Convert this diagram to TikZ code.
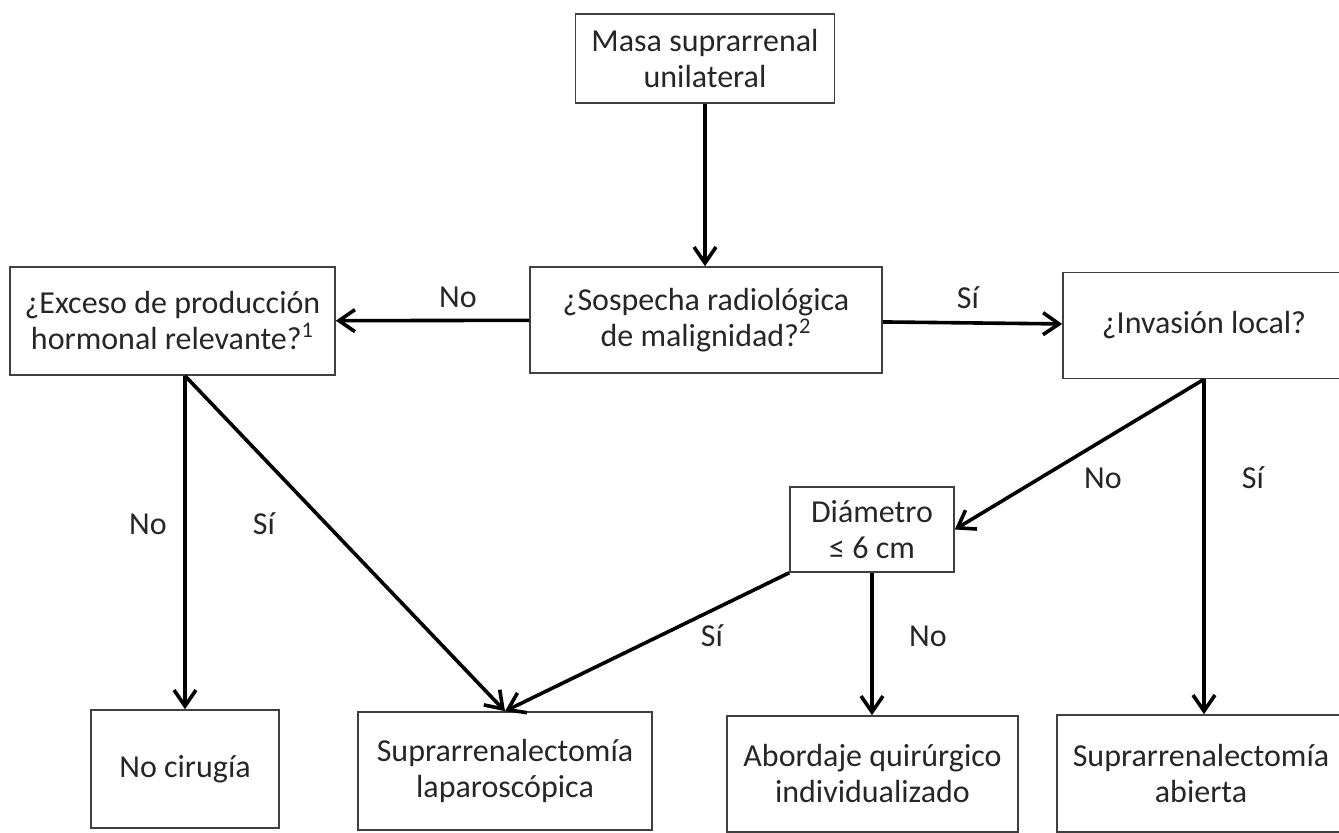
\documentclass[tikz,border=0pt]{standalone}
\usepackage{fontspec}
\setmainfont{Carlito}
\usepackage{tikz}
\usetikzlibrary{arrows.meta,calc,positioning}

\begin{document}
\begin{tikzpicture}[x=0.5pt,y=-0.5pt,
  caja/.style={draw=black!75,line width=0.8pt,align=center,inner sep=0pt,
    font=\fontsize{16}{18}\selectfont,text=black!85},
  flecha/.style={-{Straight Barb[length=8pt,width=11pt]},line width=1.8pt},
  etq/.style={font=\fontsize{16}{18}\selectfont,text=black!85}]
\useasboundingbox (0,0) rectangle (1339,833);

% cajas
\node[caja,minimum width=129.5pt,minimum height=44.5pt] (masa) at (705,58.5) {Masa suprarrenal\\unilateral};
\node[caja,minimum width=176pt,minimum height=53pt] (sosp) at (706,320) {¿Sospecha radiológica\\de malignidad?\textsuperscript{2}};
\node[caja,minimum width=162.5pt,minimum height=54pt] (exceso) at (172.5,321) {¿Exceso de producción\\hormonal relevante?\textsuperscript{1}};
\node[caja,minimum width=141pt,minimum height=53pt] (invas) at (1204,325.5) {¿Invasión local?};
\node[caja,minimum width=82pt,minimum height=42.5pt] (diam) at (872,529.5) {Diámetro\\≤ 6 cm};
\node[caja,minimum width=94pt,minimum height=59pt] (nocir) at (185,769) {No cirugía};
\node[caja,minimum width=147pt,minimum height=59pt] (suplap) at (505,771) {Suprarrenalectomía\\laparoscópica};
\node[caja,minimum width=145.5pt,minimum height=58pt] (abord) at (872.5,774) {Abordaje quirúrgico\\individualizado};
\node[caja,minimum width=144pt,minimum height=58.5pt] (supab) at (1201,773.5) {Suprarrenalectomía\\abierta};

% flechas
\draw[flecha] (masa.south) -- (masa.south |- sosp.north);
\draw[flecha] (sosp) -- (exceso);
\draw[flecha] (sosp) -- (invas);
\draw[flecha] (nocir |- exceso.south) -- (nocir.north);
\draw[flecha] (nocir |- exceso.south) -- (suplap.north);
\draw[flecha] (invas.south) -- (diam.east);
\draw[flecha] (invas.south) -- (invas.south |- supab.north);
\draw[flecha] (diam.south west) -- (suplap.north);
\draw[flecha] (diam.south) -- (diam.south |- abord.north);

% etiquetas
\foreach \nom/\x/\y/\txt in {noA/458/297/No, siA/968/298/Sí, noB/148/524/No, siB/264/524/Sí,
  noC/1103/478/No, siC/1253/478/Sí, siD/712/636/Sí, noD/928/636/No}
  {\node[etq] (\nom) at (\x,\y) {\txt};}
\end{tikzpicture}
\end{document}
